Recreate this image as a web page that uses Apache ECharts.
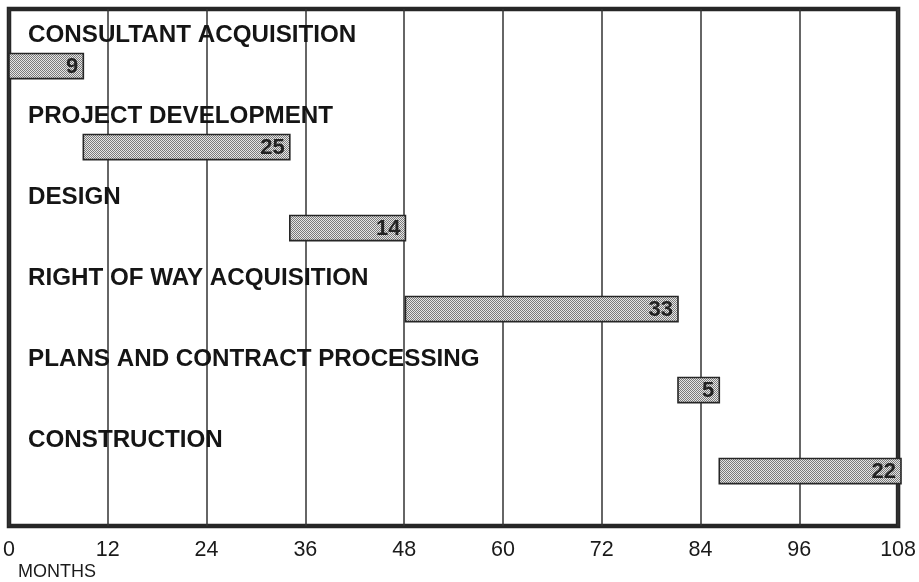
<!DOCTYPE html>
<html>
<head>
<meta charset="utf-8">
<script src="https://cdn.jsdelivr.net/npm/echarts@6/dist/echarts.min.js"></script>
<style>
  html, body { margin: 0; padding: 0; background: #ffffff; }
  #chart { width: 919px; height: 582px; }
</style>
</head>
<body>
<div id="chart"></div>
<script>
// Project schedule (months)
const tasks = [
  'CONSULTANT ACQUISITION',
  'PROJECT DEVELOPMENT',
  'DESIGN',
  'RIGHT OF WAY ACQUISITION',
  'PLANS AND CONTRACT PROCESSING',
  'CONSTRUCTION'
];
const startMonths = [0, 9, 34, 48, 81, 86];
const durations = [9, 25, 14, 33, 5, 22];
const monthTicks = [0, 12, 24, 36, 48, 60, 72, 84, 96, 108];
const axisTitle = 'MONTHS';

const FONT = '"Liberation Sans", Arial, Helvetica, sans-serif';

// Fine stipple used to fill the task bars
function stipple() {
  const c = document.createElement('canvas');
  c.width = 2; c.height = 2;
  const g = c.getContext('2d');
  g.fillStyle = '#e6e6e6';
  g.fillRect(0, 0, 2, 2);
  g.fillStyle = '#7a7a7a';
  g.fillRect(0, 0, 1, 1);
  g.fillRect(1, 1, 1, 1);
  return c;
}
const barFill = { image: stipple(), repeat: 'repeat' };

const chart = echarts.init(document.getElementById('chart'), null, { renderer: 'canvas' });

const rows = tasks.map((t, i) => [i, startMonths[i], durations[i]]);

function renderTask(params, api) {
  const idx = api.value(0);
  const start = api.value(1);
  const dur = api.value(2);
  const p0 = api.coord([start, idx]);
  const p1 = api.coord([start + dur, idx]);
  const origin = api.coord([0, idx]);
  const band = api.size([0, 1])[1];
  const h = band * 0.31;
  const barMid = p0[1] + band * 0.204;
  const nameMid = p0[1] - band * 0.18;
  return {
    type: 'group',
    children: [
      {
        type: 'rect',
        shape: { x: p0[0], y: barMid - h / 2, width: p1[0] - p0[0], height: h },
        style: { fill: barFill, stroke: '#262626', lineWidth: 1.6 }
      },
      {
        type: 'text',
        style: {
          text: String(dur),
          x: p1[0] - 5, y: barMid + 1,
          align: 'right', verticalAlign: 'middle',
          font: 'bold 22px ' + FONT,
          fill: '#222222'
        }
      },
      {
        type: 'text',
        style: {
          text: tasks[idx],
          x: origin[0] + 19, y: nameMid,
          align: 'left', verticalAlign: 'middle',
          font: 'bold 24.2px ' + FONT,
          fill: '#151515'
        }
      }
    ]
  };
}

chart.setOption({
  animation: false,
  backgroundColor: '#ffffff',
  grid: [
    { left: 9, right: 18, top: 9, bottom: 56, show: true,
      borderWidth: 4.5, borderColor: '#262626', backgroundColor: 'transparent' },
    { left: 9, right: 18, top: 9, bottom: 87 }
  ],
  xAxis: [
    {
      gridIndex: 0, type: 'value', min: monthTicks[0], max: monthTicks[monthTicks.length - 1], interval: 12,
      axisLine: { show: false }, axisTick: { show: false },
      splitLine: { show: true, lineStyle: { color: '#333333', width: 1.5 } },
      axisLabel: {
        margin: 13, fontSize: 21.5, fontFamily: FONT, color: '#1a1a1a',
        formatter: v => monthTicks.includes(v) ? String(v) : ''
      }
    },
    { gridIndex: 1, type: 'value', min: 0, max: 108, show: false }
  ],
  yAxis: [
    { gridIndex: 0, type: 'value', show: false },
    { gridIndex: 1, type: 'category', data: tasks, inverse: true, show: false }
  ],
  graphic: [
    {
      type: 'text', left: 18, top: 563,
      style: { text: axisTitle, font: '18px ' + FONT, fill: '#1a1a1a' }
    }
  ],
  series: [
    {
      type: 'custom',
      xAxisIndex: 1, yAxisIndex: 1,
      renderItem: renderTask,
      encode: { x: [1], y: 0 },
      data: rows,
      clip: false
    }
  ]
});
</script>
</body>
</html>
